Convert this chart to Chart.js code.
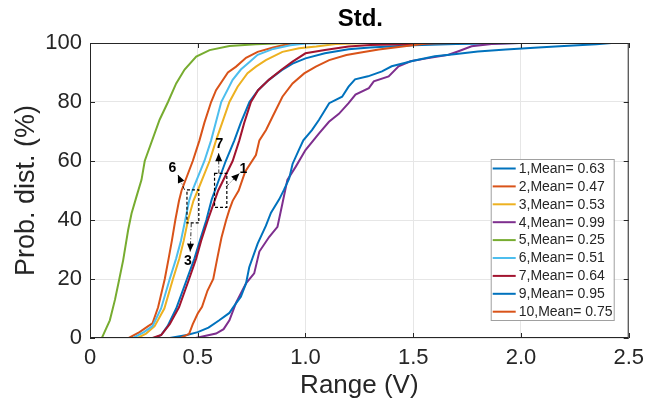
<!DOCTYPE html>
<html>
<head>
<meta charset="utf-8">
<script src="https://cdn.jsdelivr.net/npm/chart.js@4"></script>
<style>
  html, body { margin: 0; background: #fff; }
</style>
</head>
<body>
<canvas id="cdf" width="651" height="408"></canvas>
<script>
// legend names, matlab default colours
const seriesNames = ["1,Mean= 0.63", "2,Mean= 0.47", "3,Mean= 0.53", "4,Mean= 0.99", "5,Mean= 0.25",
  "6,Mean= 0.51", "7,Mean= 0.64", "9,Mean= 0.95", "10,Mean= 0.75"];
const seriesColors = ["#0072BD", "#D95319", "#EDB120", "#7E2F8E", "#77AC30",
  "#4DBEEE", "#A2142F", "#0072BD", "#D95319"];

// [range (V), prob (%)]
const s1 = [[0.30,0],[0.33,1],[0.36,4],[0.40,10],[0.45,20],[0.485,27],[0.51,33],[0.54,40],[0.565,47],[0.58,50],
  [0.63,60],[0.67,67],[0.70,73],[0.74,80],[0.78,84],[0.83,87.5],[0.89,90.8],[0.94,93],[1.0,94.8],[1.09,96.5],
  [1.2,97.9],[1.3,98.5],[1.5,99.2],[1.7,99.7],[2.0,100]];
const s2 = [[0.18,0],[0.23,2],[0.27,4],[0.29,5],[0.316,10.4],[0.347,20],[0.365,27],[0.38,33],[0.396,40],[0.413,46.5],
  [0.425,50],[0.477,60],[0.508,67],[0.531,73],[0.562,80],[0.585,84],[0.64,90],[0.678,92],[0.724,95],[0.778,97],
  [0.85,98.5],[0.9,99.3],[0.95,100]];
const s3 = [[0.22,0],[0.26,1.5],[0.30,4],[0.345,10],[0.385,20],[0.415,27],[0.435,33],[0.455,40],[0.48,46.5],[0.5,50],
  [0.555,60],[0.585,67],[0.647,80],[0.685,85.2],[0.731,89.8],[0.77,92],[0.816,94.2],[0.893,97],[0.97,98.2],
  [1.05,98.8],[1.14,99.7],[1.29,100]];
const s4 = [[0.49,0],[0.585,1.5],[0.62,3],[0.647,6],[0.678,12],[0.724,18.5],[0.762,21.9],[0.786,29.3],[0.832,34.3],
  [0.87,37.7],[0.893,45.6],[0.916,53.6],[0.955,58.1],[1.0,63.7],[1.063,69.4],[1.109,73.3],[1.155,76],[1.2,79.6],
  [1.232,82.5],[1.294,84.7],[1.317,87],[1.386,88.7],[1.432,92.1],[1.487,93.8],[1.556,94.7],[1.664,96],[1.71,97.2],
  [1.771,98.9],[1.864,99.7],[1.99,100]];
const s5 = [[0.055,0],[0.061,1],[0.092,6],[0.116,13],[0.136,20],[0.154,26.4],[0.177,36.6],[0.193,42.3],[0.216,48],
  [0.239,53.6],[0.254,60],[0.323,74],[0.362,80],[0.40,86.3],[0.439,91],[0.493,95.4],[0.555,97.6],[0.647,99],
  [0.77,99.6],[0.92,100]];
const s6 = [[0.2,0],[0.25,2],[0.29,4],[0.33,10],[0.37,20],[0.40,27],[0.422,33],[0.442,40],[0.46,46.5],[0.475,50],
  [0.531,60],[0.562,67],[0.609,80],[0.662,87.5],[0.70,91],[0.739,93.5],[0.778,96],[0.85,98],[0.93,99.2],
  [1.0,99.8],[1.15,100]];
const s7 = [[0.29,0],[0.33,1],[0.37,4.7],[0.413,10.4],[0.46,20],[0.493,27],[0.516,33],[0.547,40],[0.578,46.5],
  [0.595,50],[0.662,60],[0.693,67],[0.716,73],[0.747,80],[0.78,84],[0.83,87.5],[0.89,91],[0.94,93.7],[1.0,96.5],
  [1.09,97.6],[1.2,98.8],[1.3,99.3],[1.5,99.7],[1.6,100]];
const s9 = [[0.37,0],[0.45,1],[0.5,2],[0.55,3.5],[0.60,6],[0.647,8.5],[0.67,11],[0.70,14],[0.724,18.5],[0.739,24],
  [0.778,32],[0.816,38],[0.84,42.5],[0.878,47],[0.9,50.2],[0.924,54],[0.94,59],[0.971,64],[0.99,67],[1.03,70.5],
  [1.063,74],[1.11,79.6],[1.17,81.8],[1.2,85.2],[1.23,87.7],[1.29,88.7],[1.355,90.4],[1.4,92.1],[1.46,93.2],
  [1.5,94],[1.6,95.5],[1.69,96.2],[1.8,97.1],[1.93,97.8],[2.08,98.5],[2.2,99],[2.35,99.6],[2.42,100]];
const s10 = [[0.42,0],[0.46,1.4],[0.477,4.7],[0.50,8.3],[0.52,10.6],[0.545,16],[0.572,20],[0.592,27.5],[0.61,34],
  [0.632,40],[0.647,43.5],[0.662,46.5],[0.69,50],[0.72,56.4],[0.77,62],[0.786,67],[0.817,70.5],[0.847,75],
  [0.893,81.8],[0.94,86.3],[0.994,89.7],[1.048,92],[1.11,94.2],[1.19,95.9],[1.25,96.7],[1.34,97.8],[1.46,98.9],
  [1.56,99.8],[1.7,100]];
const allSeries = [s1, s2, s3, s4, s5, s6, s7, s9, s10];

const xTicks = [0, 0.5, 1, 1.5, 2, 2.5];
const yTicks = [0, 20, 40, 60, 80, 100];

// dashed boxes and arrows, in data units
const boxes = [[0.45, 39, 0.505, 50.2], [0.578, 44.3, 0.635, 55.8]];
const arrows = [
  { from: [0.439, 50.2], to: [0.408, 55.3], text: "6", at: [0.382, 57.7] },
  { from: [0.47, 38.9], to: [0.465, 29.3], text: "3", at: [0.454, 26.1] },
  { from: [0.598, 55.8], to: [0.597, 62.6], text: "7", at: [0.60, 65.7] },
  { from: [0.632, 51.3], to: [0.693, 55.8], text: "1", at: [0.712, 57.2] },
];

const font = "'Liberation Sans', Arial, sans-serif";
const textColor = "#262626";

const datasets = allSeries.map((s, i) => ({
  label: seriesNames[i],
  data: s.map(([x, y]) => ({ x, y })),
  borderColor: seriesColors[i],
  backgroundColor: seriesColors[i],
  borderWidth: 2,
  pointRadius: 0,
  tension: 0,
  fill: false,
  order: allSeries.length - i,
}));

function arrowHead(c, x1, y1, x2, y2) {
  const a = Math.atan2(y2 - y1, x2 - x1);
  const len = 8, w = 3.5;
  c.beginPath();
  c.moveTo(x2, y2);
  c.lineTo(x2 - len * Math.cos(a) + w * Math.sin(a), y2 - len * Math.sin(a) - w * Math.cos(a));
  c.lineTo(x2 - len * Math.cos(a) - w * Math.sin(a), y2 - len * Math.sin(a) + w * Math.cos(a));
  c.closePath();
  c.fill();
}

const extras = {
  id: "extras",
  afterDatasetsDraw(chart) {
    const c = chart.ctx;
    const xs = chart.scales.x, ys = chart.scales.y;

    c.save();
    // boxes
    c.strokeStyle = "#000";
    c.lineWidth = 1.2;
    c.setLineDash([3, 2]);
    boxes.forEach(([x0, y0, x1, y1]) => {
      const px0 = xs.getPixelForValue(x0), px1 = xs.getPixelForValue(x1);
      const py0 = ys.getPixelForValue(y0), py1 = ys.getPixelForValue(y1);
      c.strokeRect(px0, py1, px1 - px0, py0 - py1);
    });
    // arrows
    c.fillStyle = "#000";
    c.font = "bold 14px " + font;
    c.textAlign = "center";
    c.textBaseline = "middle";
    arrows.forEach(a => {
      const x1 = xs.getPixelForValue(a.from[0]), y1 = ys.getPixelForValue(a.from[1]);
      const x2 = xs.getPixelForValue(a.to[0]), y2 = ys.getPixelForValue(a.to[1]);
      c.lineWidth = 0.8;
      c.setLineDash([4, 2, 1, 2]);
      c.beginPath();
      c.moveTo(x1, y1);
      c.lineTo(x2, y2);
      c.stroke();
      c.setLineDash([]);
      arrowHead(c, x1, y1, x2, y2);
      c.fillText(a.text, xs.getPixelForValue(a.at[0]), ys.getPixelForValue(a.at[1]));
    });
    c.restore();
  },
  afterDraw(chart) {
    const c = chart.ctx;
    const { left, right, top, bottom } = chart.chartArea;
    const xs = chart.scales.x, ys = chart.scales.y;
    c.save();
    // box and inner ticks
    c.strokeStyle = textColor;
    c.lineWidth = 1;
    c.setLineDash([]);
    c.strokeRect(left + 0.5, top + 0.5, right - left - 1, bottom - top - 1);
    c.beginPath();
    xTicks.forEach(v => {
      const p = Math.round(xs.getPixelForValue(v)) + 0.5;
      c.moveTo(p, bottom); c.lineTo(p, bottom - 5);
      c.moveTo(p, top); c.lineTo(p, top + 5);
    });
    yTicks.forEach(v => {
      const p = Math.round(ys.getPixelForValue(v)) + 0.5;
      c.moveTo(left, p); c.lineTo(left + 5, p);
      c.moveTo(right, p); c.lineTo(right - 5, p);
    });
    c.stroke();

    // title
    c.fillStyle = "#000";
    c.font = "bold 24px " + font;
    c.textAlign = "center";
    c.textBaseline = "middle";
    c.fillText("Std.", (left + right) / 2 + 1, 19);

    // legend
    const lx = right - 138, ly = bottom - 179, lw = 123, lh = 161;
    c.fillStyle = "#fff";
    c.fillRect(lx, ly, lw, lh);
    c.strokeStyle = "#a0a0a0";
    c.strokeRect(lx + 0.5, ly + 0.5, lw, lh);
    c.font = "14px " + font;
    c.textAlign = "left";
    seriesNames.forEach((name, i) => {
      const yy = ly + 9.5 + i * 17.9;
      c.strokeStyle = seriesColors[i];
      c.lineWidth = 2;
      c.beginPath();
      c.moveTo(lx + 2, yy); c.lineTo(lx + 25, yy);
      c.stroke();
      c.fillStyle = textColor;
      c.fillText(name, lx + 28, yy + 0.5);
    });
    c.restore();
  },
};

new Chart(document.getElementById("cdf"), {
  type: "line",
  data: { datasets },
  options: {
    responsive: false,
    animation: false,
    layout: { padding: { top: 43, right: 21, left: 0, bottom: 0 } },
    plugins: { legend: { display: false }, tooltip: { enabled: false } },
    scales: {
      x: {
        type: "linear",
        min: 0,
        max: 2.5,
        afterFit: s => { s.height = 70; },
        afterBuildTicks: s => { s.ticks = xTicks.map(v => ({ value: v })); },
        grid: { color: "#e6e6e6", drawTicks: false },
        border: { display: false },
        ticks: { color: textColor, padding: 7, font: { family: font, size: 22 }, maxRotation: 0 },
        title: { display: true, text: "Range (V)", color: textColor, padding: 7, font: { family: font, size: 26 } },
      },
      y: {
        min: 0,
        max: 100,
        afterFit: s => { s.width = 90; },
        afterBuildTicks: s => { s.ticks = yTicks.map(v => ({ value: v })); },
        grid: { color: "#e6e6e6", drawTicks: false },
        border: { display: false },
        ticks: { color: textColor, padding: 8, font: { family: font, size: 22 } },
        title: { display: true, text: "Prob. dist. (%)", color: textColor, padding: 10, font: { family: font, size: 27 } },
      },
    },
  },
  plugins: [extras],
});
</script>
</body>
</html>
